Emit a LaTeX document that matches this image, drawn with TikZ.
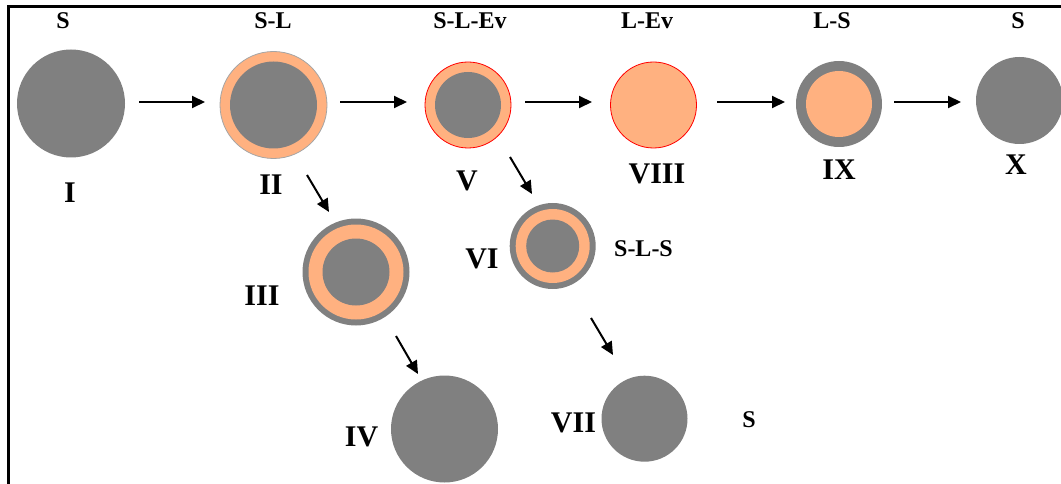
\documentclass[tikz,border=0pt]{standalone}
\usepackage{fontspec}
\setmainfont{Liberation Serif}
\usetikzlibrary{arrows.meta}
\definecolor{dgrey}{RGB}{128,128,128}
\definecolor{peach}{RGB}{255,177,128}
\definecolor{rimgrey}{RGB}{165,165,165}
\definecolor{rimred}{RGB}{255,0,0}
\begin{document}
\begin{tikzpicture}[x=1pt,y=-1pt,
  sdisc/.style={circle,inner sep=0pt,minimum size=#1,fill=dgrey},
  ldisc/.style={circle,inner sep=0pt,minimum size=#1,fill=peach},
  toplab/.style={anchor=base,inner sep=0pt,font=\fontsize{24}{24}\selectfont\bfseries},
  numlab/.style={anchor=base,inner sep=0pt,font=\fontsize{30}{30}\selectfont\bfseries},
  arr/.style={line width=2pt,-{Triangle[length=13pt,width=12pt]}},
  frameline/.style={line width=3pt}]
\useasboundingbox (0,0) rectangle (1061,484);
% frame
\coordinate (fTL) at (8.5,6.5);
\coordinate (fTR) at (1061,6.5);
\coordinate (fBL) at (8.5,484);
\draw[frameline] (fTR) -- (fTL) -- (fBL);

% I
\node[sdisc=108pt] (I) at (71,103.5) {};
% II
\node[ldisc=107pt,draw=rimgrey,line width=0.8pt] (II) at (273.5,105) {};
\node[sdisc=87pt] (IIin) at (II.center) {};
% V
\node[ldisc=86pt,draw=rimred,line width=0.8pt] (V) at (468,105) {};
\node[sdisc=66pt] (Vin) at (V.center) {};
% VIII
\node[ldisc=86pt,draw=rimred,line width=0.8pt] (VIII) at (653.5,105) {};
% IX
\node[sdisc=86pt] (IX) at (839,104) {};
\node[ldisc=66pt] (IXin) at (IX.center) {};
% X
\node[sdisc=87pt] (X) at (1019.5,100.5) {};
% III
\node[sdisc=107pt] (III) at (356,272) {};
\node[ldisc=95pt] (IIImid) at (III.center) {};
\node[sdisc=67pt] (IIIin) at (III.center) {};
% VI
\node[sdisc=86pt] (VI) at (552.7,246) {};
\node[ldisc=74pt] (VImid) at (VI.center) {};
\node[sdisc=53pt] (VIin) at (VI.center) {};
% IV
\node[sdisc=107pt] (IV) at (444.5,429) {};
% VII
\node[sdisc=86pt] (VII) at (644.5,418.7) {};

% top labels
\node[toplab] (tI) at (63,28.5) {S};
\node[toplab] (tII) at (273,28.5) {S-L};
\node[toplab] (tV) at (470,28.5) {S-L-Ev};
\node[toplab] (tVIII) at (647,28.5) {L-Ev};
\node[toplab] (tIX) at (832,28.5) {L-S};
\node[toplab] (tX) at (1018,28.5) {S};
\node[toplab] (tVI) at (643.5,256.7) {S-L-S};
\node[toplab] (tVII) at (749,427.7) {S};

% roman numerals
\node[numlab] (nI) at (70,203) {I};
\node[numlab] (nII) at (271,195) {II};
\node[numlab] (nV) at (467,190) {V};
\node[numlab] (nVIII) at (657,183) {VIII};
\node[numlab] (nIX) at (839,180) {IX};
\node[numlab] (nX) at (1016,175) {X};
\node[numlab] (nIII) at (262,305) {III};
\node[numlab] (nVI) at (482,268) {VI};
\node[numlab] (nIV) at (361.5,446) {IV};
\node[numlab] (nVII) at (573.5,432) {VII};

% horizontal arrows
\coordinate (h1s) at (139,102); \coordinate (h1e) at (205,102);
\coordinate (h2s) at (340,102); \coordinate (h2e) at (407,102);
\coordinate (h3s) at (525,102); \coordinate (h3e) at (592,102);
\coordinate (h4s) at (717,102); \coordinate (h4e) at (785,102);
\coordinate (h5s) at (894,102); \coordinate (h5e) at (961,102);
\draw[arr] (h1s) -- (h1e);
\draw[arr] (h2s) -- (h2e);
\draw[arr] (h3s) -- (h3e);
\draw[arr] (h4s) -- (h4e);
\draw[arr] (h5s) -- (h5e);
% diagonal arrows
\coordinate (d1s) at (307,175); \coordinate (d1e) at (329,212);
\coordinate (d2s) at (510,157); \coordinate (d2e) at (532,194);
\coordinate (d3s) at (396,336); \coordinate (d3e) at (418,374);
\coordinate (d4s) at (591,318); \coordinate (d4e) at (613,355);
\draw[arr] (d1s) -- (d1e);
\draw[arr] (d2s) -- (d2e);
\draw[arr] (d3s) -- (d3e);
\draw[arr] (d4s) -- (d4e);
\end{tikzpicture}
\end{document}
